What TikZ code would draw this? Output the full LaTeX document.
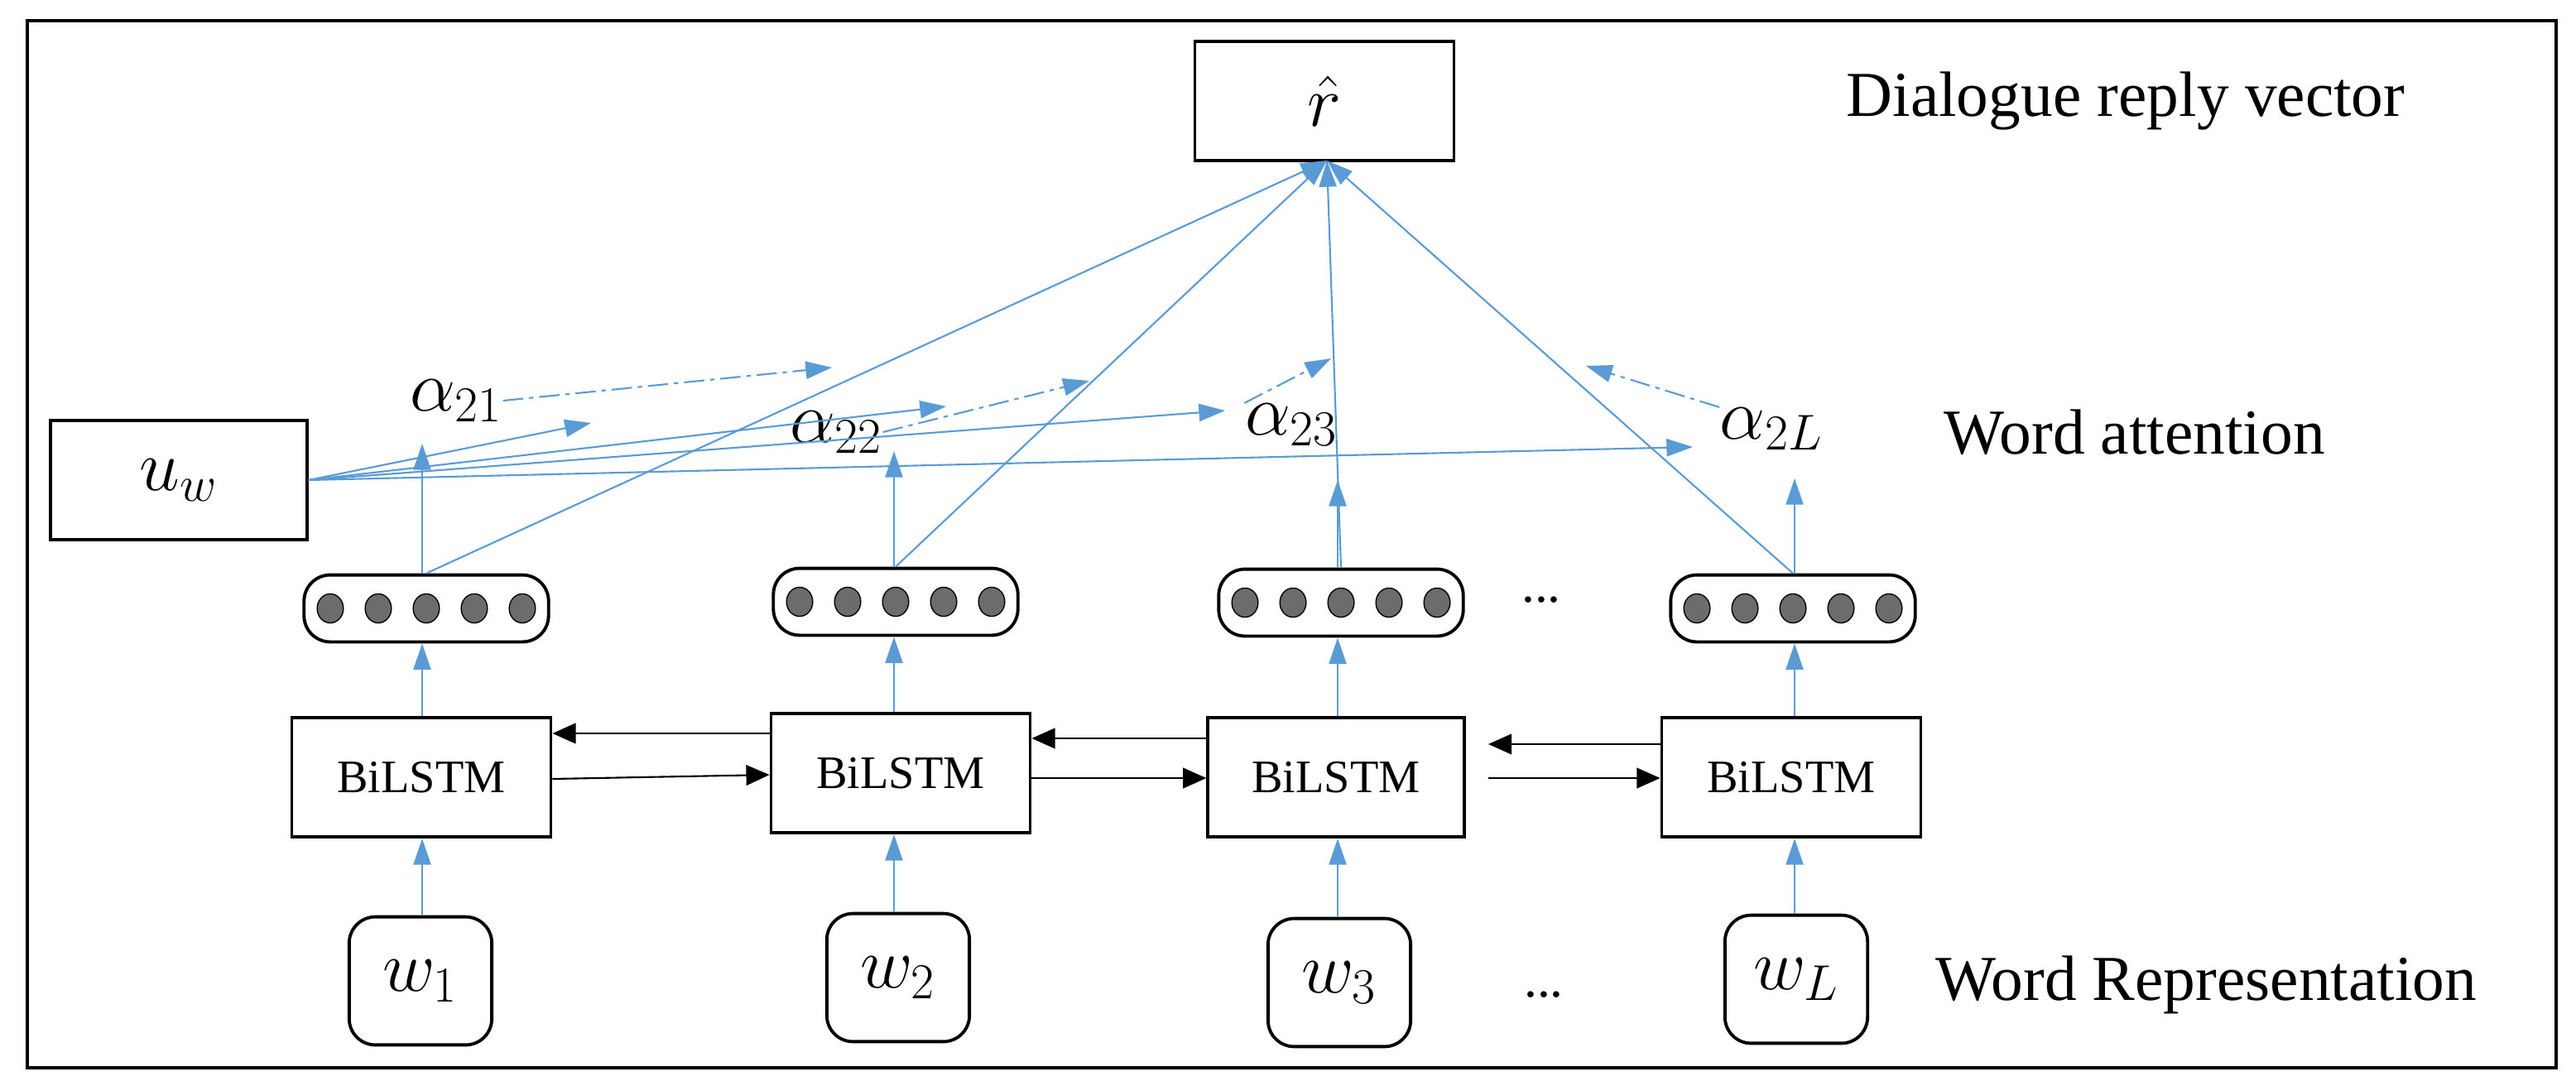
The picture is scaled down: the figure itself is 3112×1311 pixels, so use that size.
\documentclass[tikz,border=0pt]{standalone}
\usepackage{fontspec}
\setmainfont{Liberation Serif}
\usetikzlibrary{arrows.meta,shapes.geometric}
\definecolor{ablue}{RGB}{91,155,213}
\begin{document}
\begin{tikzpicture}[x=0.01cm,y=-0.01cm,
  box/.style={draw,line width=1.1pt,inner sep=0,rectangle},
  rbox/.style={draw,line width=1.1pt,inner sep=0,rounded corners=9pt},
  ba/.style={ablue,line width=0.6pt,-{Triangle[length=9pt,width=6pt]}},
  bd/.style={ablue,line width=0.6pt,dash pattern=on 7pt off 2pt on 1.5pt off 2pt,-{Triangle[length=9pt,width=6pt]}},
  ka/.style={black,line width=0.6pt,-{Triangle[length=8pt,width=7pt]}},
  dot/.style={draw,fill=gray!85!black,ellipse,minimum width=9pt,minimum height=10pt,inner sep=0,line width=0.4pt},
  lab/.style={font=\fontsize{22}{24}\selectfont,anchor=west,inner sep=0},
  mth/.style={font=\fontsize{26}{28}\selectfont,inner sep=0},
  bil/.style={font=\fontsize{16}{18}\selectfont}]
\useasboundingbox (0,0) rectangle (3112,1311);
\draw[line width=1.2pt] (33,25) rectangle (3088,1290);
% top
\node[box,minimum width=89pt,minimum height=41pt,mth] (r) at (1600,122) {$\hat{r}$};
\node[lab] (t1) at (2230,122) {Dialogue reply vector};
\node[lab] (t2) at (2348,522) {Word attention};
\node[lab] (t3) at (2338,1190) {Word Representation};
\node[box,minimum width=88pt,minimum height=41pt,mth] (u) at (216,580) {$u_w$};
% alphas
\node[mth] (a1) at (551,484) {$\alpha_{21}$};
\node[mth] (a2) at (1010,522) {$\alpha_{22}$};
\node[mth] (a3) at (1560,513) {$\alpha_{23}$};
\node[mth] (a4) at (2140,518) {$\alpha_{2L}$};
% hidden boxes
\foreach \i/\cx/\cy in {1/515/735,2/1082/727,3/1620/728,4/2166/735}{
  \node[rbox,minimum width=84pt,minimum height=23pt] (h\i) at (\cx,\cy) {};
  \foreach \k in {-2,-1,0,1,2}{\node[dot] at (\cx+\k*58,\cy) {};}
}
\node[font=\fontsize{18}{20}\selectfont] (d1) at (1862,725) {...};
% BiLSTM
\node[box,minimum width=89pt,minimum height=41pt,bil] (b1) at (509,939) {BiLSTM};
\node[box,minimum width=89pt,minimum height=41pt,bil] (b2) at (1088,934) {BiLSTM};
\node[box,minimum width=88pt,minimum height=41pt,bil] (b3) at (1614,939) {BiLSTM};
\node[box,minimum width=89pt,minimum height=41pt,bil] (b4) at (2164,939) {BiLSTM};
% words
\foreach \i/\cx/\cy/\t in {1/508/1185/w_1,2/1085/1181/w_2,3/1618/1187/w_3,4/2170/1183/w_L}{
  \node[rbox,minimum width=49pt,minimum height=44pt,mth] (w\i) at (\cx,\cy) {$\t$};
}
\node[font=\fontsize{18}{20}\selectfont] (d2) at (1865,1202) {...};
% vertical blue arrows
\coordinate (x1) at (510,0); \coordinate (x2) at (1080,0);
\coordinate (x3) at (1616,0); \coordinate (x4) at (2168,0);
\foreach \i in {1,2,3,4}{
  \draw[ba] (w\i.north -| x\i) -- (b\i.south -| x\i);
  \draw[ba] (b\i.north -| x\i) -- (h\i.south -| x\i);
}
\coordinate (e1) at (510,536); \coordinate (e2) at (1080,545);
\coordinate (e3) at (1616,580); \coordinate (e4) at (2168,578);
\draw[ba] (e1|-h1.north) -- (e1);
\draw[ba] (e2|-h2.north) -- (e2);
\draw[ba] (e3|-h3.north) -- (e3);
\draw[ba] (e4|-h4.north) -- (e4);
% hidden to r
\coordinate (rt) at (1603,194);
\draw[ba] (h1.north) -- (rt);
\draw[ba] (h2.north) -- (rt);
\draw[ba] (h3.north) -- (rt);
\draw[ba] (h4.north) -- (rt);
% u_w lines
\coordinate (p1) at (714,511); \coordinate (p2) at (1143,491);
\coordinate (p3) at (1480,496); \coordinate (p4) at (2045,540);
\foreach \p in {p1,p2,p3,p4}{\draw[ba] (u.east) -- (\p);}
% dashed
\coordinate (q1) at (1005,444); \coordinate (q2) at (1316,460);
\coordinate (q3) at (1608,433); \coordinate (q4) at (1916,442);
\draw[bd] (a1.east) -- (q1);
\draw[bd] (a2.east) -- (q2);
\draw[bd] (a3.north west) -- (q3);
\draw[bd] (a4.north west) -- (q4);
% black horizontal
\draw[ka] (b2.west|-0,886) -- (b1.east|-0,886);
\draw[ka] (b1.east|-0,941) -- (b2.west|-0,936);
\draw[ka] (b3.west|-0,892) -- (b2.east|-0,892);
\draw[ka] (b2.east|-0,940) -- (b3.west|-0,940);
\coordinate (g1) at (1798,899); \coordinate (g2) at (1798,940);
\draw[ka] (b4.west|-0,899) -- (g1);
\draw[ka] (g2) -- (b4.west|-0,940);
\end{tikzpicture}
\end{document}
